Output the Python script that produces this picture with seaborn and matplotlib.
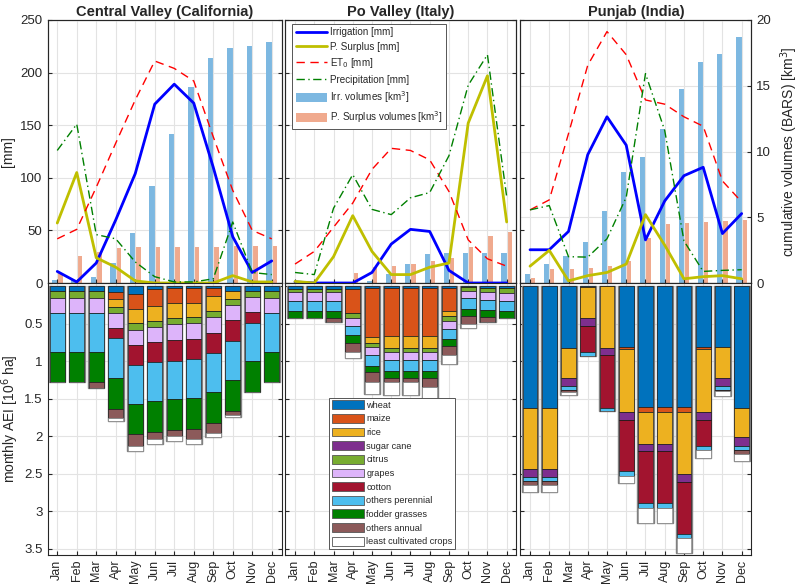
import numpy as np
import pandas as pd
import matplotlib.pyplot as plt
import seaborn as sns
from matplotlib.lines import Line2D
from matplotlib.patches import Patch


months = ["Jan", "Feb", "Mar", "Apr", "May", "Jun",
          "Jul", "Aug", "Sep", "Oct", "Nov", "Dec"]
regions = ["Central Valley (California)", "Po Valley (Italy)", "Punjab (India)"]

# -------------------------------
# top panels: monthly fluxes [mm] and cumulative volumes [km3]
# -------------------------------
cv_irrigation = [11, 1, 19, 60, 104, 170, 189, 171, 110, 44, 10, 21]
cv_surplus = [57, 105, 24, 15, 2, 0, 0, 0, 0, 7, 1, 1]
cv_et0 = [42, 51, 91, 133, 174, 211, 204, 192, 139, 88, 50, 42]
cv_precip = [126, 151, 46, 42, 20, 6, 1, 1, 4, 58, 10, 8]
cv_irr_vol = [0.22, 0.23, 0.45, 1.5, 3.78, 7.4, 11.3, 14.9, 17.1, 17.85, 18.0, 18.3]
cv_surplus_vol = [0.78, 2.08, 2.35, 2.68, 2.7, 2.7, 2.7, 2.7, 2.7, 2.8, 2.85, 2.85]

po_irrigation = [1, 0, 0, 0, 10, 37, 51, 49, 12, 0, 0, 0]
po_surplus = [1.5, 0, 25, 64, 30, 8, 8, 15, 19, 152, 197, 58]
po_et0 = [18, 30, 53, 76, 108, 128, 126, 117, 87, 41, 23, 16]
po_precip = [10, 8, 71, 103, 70, 65, 81, 86, 121, 188, 217, 82]
po_irr_vol = [0, 0, 0, 0, 0.17, 0.68, 1.42, 2.2, 2.3, 2.3, 2.3, 2.3]
po_surplus_vol = [0.05, 0.05, 0.05, 0.78, 1.24, 1.3, 1.42, 1.7, 1.9, 2.75, 3.6, 3.9]

pj_irrigation = [31.6, 31.6, 49, 122, 158, 131, 41, 78, 102, 110, 47, 66]
pj_surplus = [16, 31, 2, 7, 10, 18, 65, 36, 4, 6, 7, 4]
pj_et0 = [69.5, 79, 142, 207, 239, 217, 174, 170, 158, 149, 97, 77]
pj_precip = [69.5, 73.6, 25, 24.6, 42, 81.5, 199, 145, 40, 11, 12, 12.6]
pj_irr_vol = [0.71, 1.42, 2.02, 3.08, 5.5, 8.47, 9.6, 11.7, 14.74, 16.84, 17.45, 18.7]
pj_surplus_vol = [0.35, 1.04, 1.09, 1.14, 1.29, 1.69, 3.41, 4.45, 4.53, 4.63, 4.73, 4.8]

# -------------------------------
# bottom panels: monthly AEI [10^6 ha] per crop
# -------------------------------
crops = ["wheat", "maize", "rice", "sugar cane", "citrus", "grapes", "cotton",
         "others perennial", "fodder grasses", "others annual",
         "least cultivated crops"]
crop_colors = ["#0072BD", "#D95319", "#EDB120", "#7E2F8E", "#77AC30", "#DDB4FA",
               "#A2142F", "#4DBEEE", "#008000", "#8C5A5A", "#FFFFFF"]

zero = [0] * 12

cv_aei = {
    "wheat": [0.07, 0.07, 0.07, 0.085, 0.1, 0.04, 0.03, 0.02, 0.03, 0.067, 0.067, 0.07],
    "maize": [0, 0, 0, 0.094, 0.21, 0.22, 0.2, 0.2, 0.1, 0, 0, 0],
    "rice": [0, 0, 0, 0.1, 0.18, 0.2, 0.2, 0.19, 0.2, 0.1, 0, 0],
    "sugar cane": zero,
    "citrus": [0.085, 0.085, 0.085, 0.08, 0.09, 0.08, 0.076, 0.08, 0.08, 0.08, 0.085, 0.085],
    "grapes": [0.2, 0.2, 0.2, 0.2, 0.2, 0.2, 0.206, 0.21, 0.21, 0.2, 0.2, 0.2],
    "cotton": [0, 0, 0, 0.135, 0.27, 0.27, 0.28, 0.27, 0.27, 0.28, 0.135, 0],
    "others perennial": [0.52, 0.52, 0.52, 0.53, 0.525, 0.525, 0.51, 0.52, 0.52, 0.52, 0.515, 0.52],
    "fodder grasses": [0.4, 0.4, 0.4, 0.41, 0.4, 0.41, 0.41, 0.41, 0.41, 0.41, 0.41, 0.4],
    "others annual": [0, 0, 0.076, 0.12, 0.15, 0.09, 0.09, 0.14, 0.14, 0.06, 0, 0],
    "least cultivated crops": [0, 0, 0, 0.045, 0.076, 0.067, 0.067, 0.067, 0.045, 0.02, 0, 0],
}

po_aei = {
    "wheat": [0.04, 0.04, 0.04, 0.04, 0.03, 0.02, 0.02, 0.02, 0.02, 0.01, 0.02, 0.03],
    "maize": [0, 0, 0, 0.32, 0.65, 0.65, 0.65, 0.65, 0.31, 0, 0, 0],
    "rice": [0, 0, 0, 0, 0.076, 0.15, 0.15, 0.15, 0.07, 0, 0, 0],
    "sugar cane": zero,
    "citrus": [0.045, 0.045, 0.045, 0.06, 0.06, 0.055, 0.055, 0.055, 0.06, 0.055, 0.06, 0.06],
    "grapes": [0.11, 0.11, 0.11, 0.11, 0.1, 0.115, 0.115, 0.115, 0.11, 0.1, 0.11, 0.11],
    "cotton": zero,
    "others perennial": [0.135, 0.135, 0.135, 0.125, 0.145, 0.135, 0.135, 0.135, 0.14, 0.14, 0.135, 0.135],
    "fodder grasses": [0.09, 0.09, 0.09, 0.1, 0.09, 0.1, 0.1, 0.1, 0.085, 0.095, 0.09, 0.09],
    "others annual": [0, 0, 0.06, 0.125, 0.12, 0.055, 0.055, 0.125, 0.125, 0.11, 0.06, 0],
    "least cultivated crops": [0, 0, 0, 0.076, 0.17, 0.17, 0.17, 0.157, 0.12, 0.045, 0, 0],
}

pj_aei = {
    "wheat": [1.62, 1.62, 0.82, 0.01, 0, 0.81, 1.61, 1.61, 1.61, 0.81, 0.81, 1.62],
    "maize": [0, 0, 0, 0, 0, 0.035, 0.067, 0.067, 0.067, 0.035, 0, 0],
    "rice": [0.82, 0.82, 0.41, 0.42, 0.82, 0.83, 0.425, 0.425, 0.83, 0.83, 0.41, 0.395],
    "sugar cane": [0.1, 0.1, 0.1, 0.1, 0.1, 0.11, 0.1, 0.1, 0.1, 0.11, 0.11, 0.11],
    "citrus": zero,
    "grapes": zero,
    "cotton": [0, 0, 0, 0.345, 0.7, 0.68, 0.69, 0.69, 0.695, 0.34, 0, 0],
    "others perennial": [0.05, 0.05, 0.05, 0.055, 0.045, 0.06, 0.067, 0.067, 0.054, 0.06, 0.05, 0.06],
    "fodder grasses": zero,
    "others annual": [0.06, 0.06, 0.03, 0, 0, 0, 0, 0, 0, 0, 0.02, 0.05],
    "least cultivated crops": [0.09, 0.09, 0.04, 0, 0, 0.095, 0.19, 0.19, 0.2, 0.1, 0.06, 0.09],
}

top_data = [
    (cv_irrigation, cv_surplus, cv_et0, cv_precip, cv_irr_vol, cv_surplus_vol),
    (po_irrigation, po_surplus, po_et0, po_precip, po_irr_vol, po_surplus_vol),
    (pj_irrigation, pj_surplus, pj_et0, pj_precip, pj_irr_vol, pj_surplus_vol),
]
aei_data = [cv_aei, po_aei, pj_aei]

# line / bar styles
irr_color = "#0000FF"
sur_color = "#BFBF00"
et0_color = "#FF0000"
pre_color = "#008000"
irr_vol_color = "#7DB8E1"
sur_vol_color = "#F0AA8E"
axis_color = "#262626"
grid_color = "#E3E3E3"


# -------------------------------
# figure layout (pixel based)
# -------------------------------
sns.set_style("ticks")
plt.rcParams["font.family"] = ["Liberation Sans", "DejaVu Sans"]
plt.rcParams["axes.edgecolor"] = axis_color
plt.rcParams["xtick.color"] = axis_color
plt.rcParams["ytick.color"] = axis_color
plt.rcParams["axes.linewidth"] = 0.8

W, H = 800, 586
fig = plt.figure(figsize=(8, 5.86), dpi=100)


def px_axes(x0, y0, x1, y1):
    return fig.add_axes([x0 / W, 1 - y1 / H, (x1 - x0) / W, (y1 - y0) / H])


panel_x = [(47.5, 281.5), (285.4, 516.3), (520.4, 751.3)]
x = np.arange(12)

for i, (x0, x1) in enumerate(panel_x):
    irr, sur, et0, pre, irr_vol, sur_vol = top_data[i]

    # ---------- top panel ----------
    ax = px_axes(x0, 20, x1, 283)
    ax2 = ax.twinx()

    vol_df = pd.DataFrame({
        "month": months * 2,
        "volume": irr_vol + sur_vol,
        "kind": ["irr"] * 12 + ["sur"] * 12,
    })
    sns.barplot(data=vol_df, x="month", y="volume", hue="kind",
                order=months, hue_order=["irr", "sur"],
                palette=[irr_vol_color, sur_vol_color], saturation=1,
                width=0.54, ax=ax2, legend=False, edgecolor="none")

    sns.lineplot(x=x, y=irr, ax=ax, color=irr_color, linewidth=2)
    sns.lineplot(x=x, y=sur, ax=ax, color=sur_color, linewidth=2)
    sns.lineplot(x=x, y=et0, ax=ax, color=et0_color, linewidth=1,
                 linestyle=(0, (6, 4)))
    sns.lineplot(x=x, y=pre, ax=ax, color=pre_color, linewidth=1,
                 linestyle=(0, (6, 2.5, 1, 2.5)))

    ax.set_zorder(ax2.get_zorder() + 1)
    ax.patch.set_visible(False)

    ax.set_xlim(-0.5, 11.5)
    ax2.set_xlim(-0.5, 11.5)
    ax.set_ylim(0, 250)
    ax2.set_ylim(0, 20)
    ax.set_xticks(x)
    ax.set_xticklabels([])
    ax.set_yticks(range(0, 251, 50))
    ax.tick_params(direction="in", length=3, labelsize=9.5)
    ax.grid(axis="x", color=grid_color, linewidth=0.8)
    ax2.set_axisbelow(True)
    ax2.set_xlabel("")
    ax2.set_ylabel("")

    if i == 0:
        ax.set_ylabel("[mm]", fontsize=10, labelpad=4)
    else:
        ax.set_yticklabels([])

    if i < 2:
        ax2.set_yticks(np.arange(0, 21, 4))
        ax2.tick_params(axis="y", direction="in", length=3, labelright=False)
    else:
        ax2.set_yticks(range(0, 21, 5))
        ax2.tick_params(axis="y", direction="in", length=3, labelsize=9.5)
        ax2.set_ylabel("cumulative volumes (BARS) [km$^3$]", fontsize=10,
                       labelpad=5)
    ax2.grid(axis="y", color=grid_color, linewidth=0.8)

    ax.set_title(regions[i], fontsize=10.5, fontweight="bold", pad=3)

    if i == 1:
        handles = [
            Line2D([], [], color=irr_color, lw=2),
            Line2D([], [], color=sur_color, lw=2),
            Line2D([], [], color=et0_color, lw=1, ls=(0, (6, 4))),
            Line2D([], [], color=pre_color, lw=1, ls=(0, (6, 2.5, 1, 2.5))),
            Patch(facecolor=irr_vol_color, edgecolor="none"),
            Patch(facecolor=sur_vol_color, edgecolor="none"),
        ]
        labels = ["Irrigation [mm]", "P. Surplus [mm]", "ET$_0$ [mm]",
                  "Precipitation [mm]", "Irr. volumes [km$^3$]",
                  "P. Surplus volumes [km$^3$]"]
        leg = ax.legend(handles, labels, loc="upper left",
                        bbox_to_anchor=(0.03, 0.985), borderaxespad=0,
                        fontsize=7.1, handlelength=3.2, handleheight=1.0,
                        labelspacing=0.45, handletextpad=0.3,
                        borderpad=0.35, fancybox=False, framealpha=1)
        leg.get_frame().set_edgecolor("#555555")
        leg.get_frame().set_linewidth(0.7)
    elif ax.get_legend() is not None:
        ax.get_legend().remove()

    # ---------- bottom panel ----------
    axb = px_axes(x0, 283, x1, 555)
    aei = aei_data[i]
    total = np.sum([aei[c] for c in crops], axis=0)
    axb.bar(x, total, width=0.84, color="white", edgecolor="#808080",
            linewidth=1.0, zorder=2)
    bottom = np.zeros(12)
    for crop, color in zip(crops, crop_colors):
        vals = np.array(aei[crop])
        edge = "#808080" if crop == "least cultivated crops" else "#1A1A1A"
        axb.bar(x, vals, bottom=bottom, width=0.77, color=color,
                edgecolor=edge, linewidth=0.5, zorder=3, label=crop)
        bottom = bottom + vals

    axb.set_xlim(-0.5, 11.5)
    axb.set_ylim(3.58, -0.04)
    axb.set_yticks(np.arange(0, 3.51, 0.5))
    # the "0" is already written by the panel above
    axb.set_yticklabels(["", "0.5", "1", "1.5", "2", "2.5", "3", "3.5"])
    axb.set_xticks(x)
    axb.set_xticklabels(months, rotation=90, fontsize=9)
    axb.tick_params(direction="in", length=3, labelsize=9.5, right=True)
    axb.tick_params(axis="x", labelsize=9)
    axb.grid(True, color=grid_color, linewidth=0.8)
    axb.set_axisbelow(True)

    if i == 0:
        axb.set_ylabel("monthly AEI [10$^6$ ha]", fontsize=10, labelpad=2)
    else:
        axb.set_yticklabels([])

    if i == 1:
        crop_handles = [Patch(facecolor=c, edgecolor="#555555", linewidth=0.6)
                        for c in crop_colors]
        leg = axb.legend(crop_handles, crops, loc="lower left",
                         bbox_to_anchor=(0.188, 0.022), borderaxespad=0,
                         fontsize=6.6, handlelength=3.5, handleheight=1.1,
                         labelspacing=0.45, handletextpad=0.3,
                         borderpad=0.3, fancybox=False, framealpha=1)
        leg.get_frame().set_edgecolor("#555555")
        leg.get_frame().set_linewidth(0.7)

fig.savefig("out.png", dpi=100)
